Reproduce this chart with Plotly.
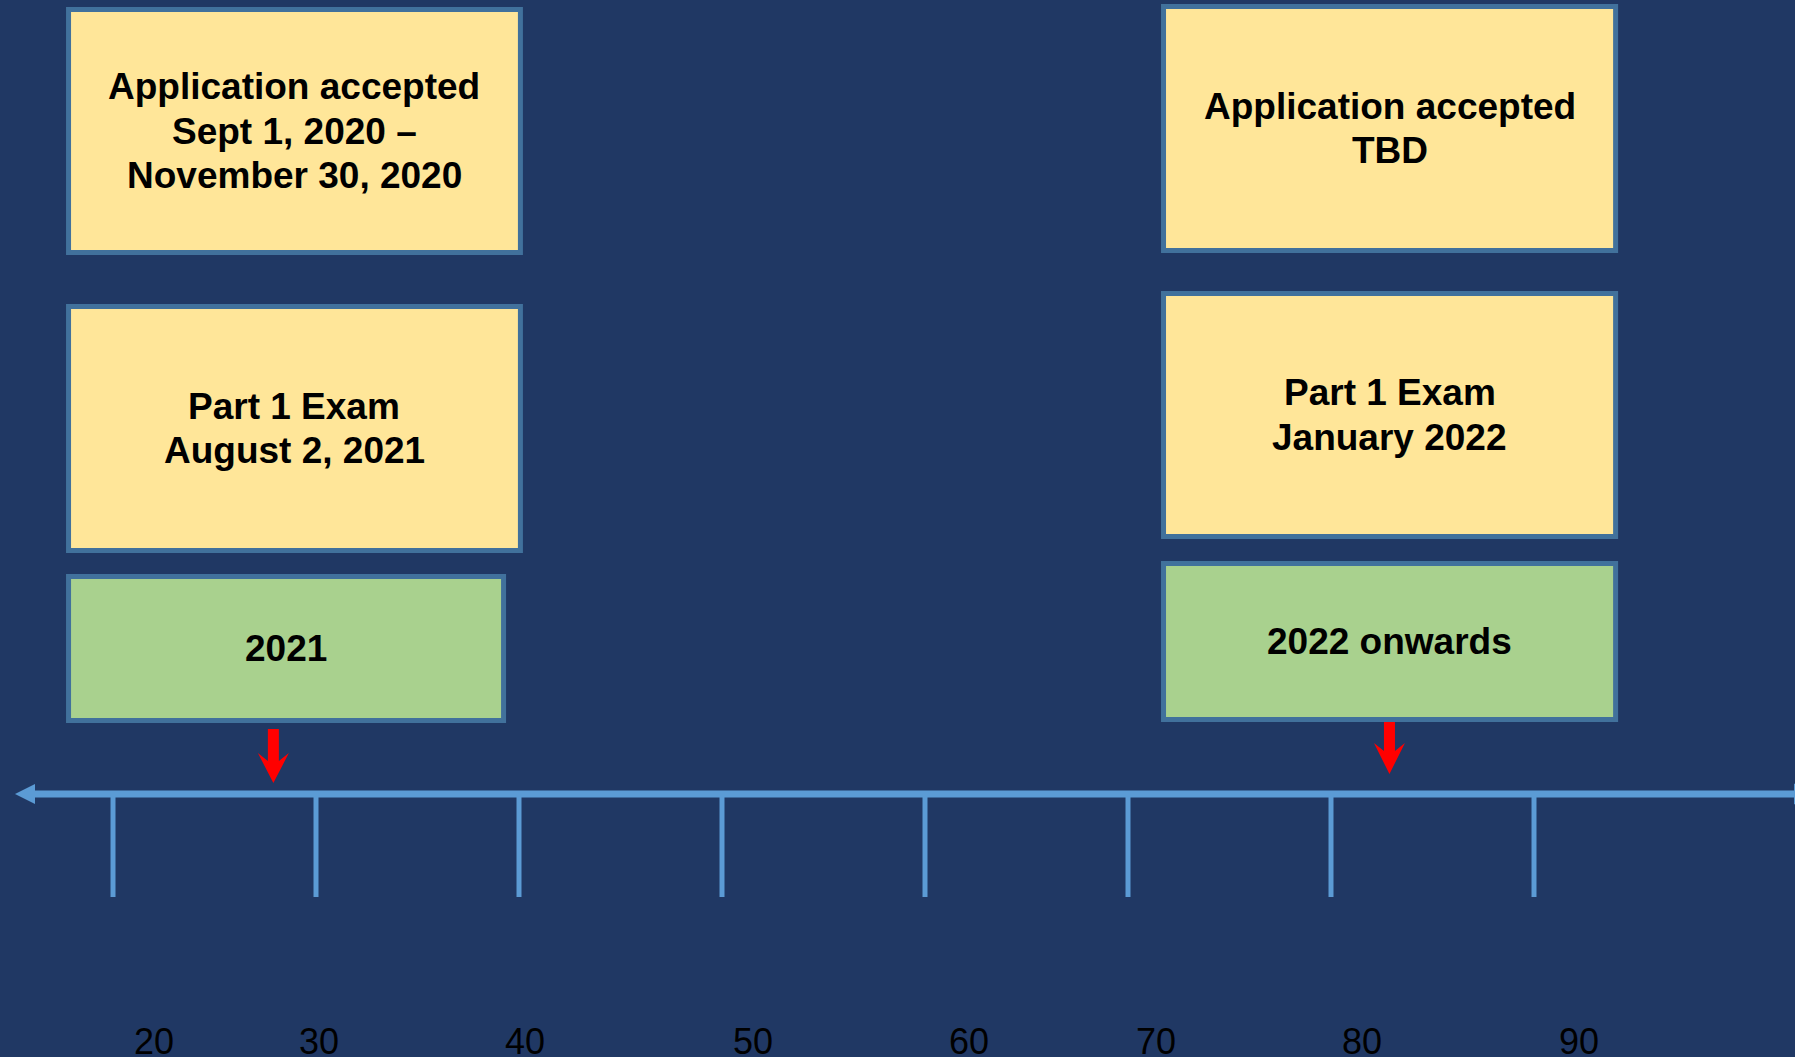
import plotly.graph_objects as go

# ---------------- data ----------------
tick_ages = [20, 30, 40, 50, 60, 70, 80, 90]
tick_labels = ["20", "30", "40", "50", "60", "70", "80", "90"]
# where each tick label sits along the age axis (labels are offset from ticks in the original)
label_ages = [22.0, 30.15, 40.3, 51.53, 62.17, 71.38, 81.53, 92.22]

left_texts = [
    ["Application accepted", "Sept 1, 2020 \u2013", "November 30, 2020"],
    ["Part 1 Exam", "August 2, 2021"],
    ["2021"],
]
right_texts = [
    ["Application accepted", "TBD"],
    ["Part 1 Exam", "January 2022"],
    ["2022 onwards"],
]
box_kinds = ["yellow", "yellow", "green"]

# marker arrows on the timeline (age units)
arrow_ages = [27.9, 82.88]

# ---------------- layout / geometry ----------------
W, H = 1795, 1057
PX0, PX_PER_YEAR = 113.0, 20.3          # age 20 sits at 113 px, 10 years = 203 px


def px2age(px):
    return 20 + (px - PX0) / PX_PER_YEAR


def dpx(px):
    return px / PX_PER_YEAR


x_range = [px2age(0), px2age(W)]

# box geometry: x spans in age units, y spans in rows (px from top)
left_x = [(17.81, 40.07), (17.81, 40.07), (17.81, 39.24)]
right_x = [(71.75, 94.02), (71.75, 94.02), (71.75, 94.02)]
left_y = [(9.5, 252.5), (306.5, 550.5), (576.5, 720.5)]
right_y = [(6.5, 250.5), (293.5, 536.5), (563.5, 719.5)]
arrow_rows = [(729, 753, 761, 783), (722, 743, 751, 774)]  # top, barb, junction, tip

AXIS_Y = 794
TICK_BOTTOM = 897
LABEL_Y = 1041

BG = "#203864"
AXIS_COLOR = "#5B9BD5"
BORDER = "#41719C"
FILLS = {"yellow": "#FFE699", "green": "#A9D18E"}
FONT = "Liberation Sans, Arial, sans-serif"
LINE_GAP = 44.5

fig = go.Figure()
fig.add_trace(go.Scatter(x=[x_range[0]], y=[0], mode="markers",
                         marker=dict(opacity=0), hoverinfo="skip", showlegend=False))

shapes = []
annotations = []

# timeline line
shapes.append(dict(type="line", xref="x", yref="y", x0=px2age(35), x1=x_range[1] + 1,
                   y0=AXIS_Y, y1=AXIS_Y, line=dict(color=AXIS_COLOR, width=7)))
# left arrowhead
lx_tip, lx_base = px2age(15), px2age(35)
shapes.append(dict(type="path", xref="x", yref="y",
                   path=f"M {lx_tip} {AXIS_Y} L {lx_base} {AXIS_Y-10} L {lx_base} {AXIS_Y+10} Z",
                   fillcolor=AXIS_COLOR, line=dict(width=0)))
# right arrowhead (cut at the edge)
rx_base, rx_tip = px2age(1794), px2age(1814)
shapes.append(dict(type="path", xref="x", yref="y",
                   path=f"M {rx_base} {AXIS_Y-10.5} L {rx_tip} {AXIS_Y} L {rx_base} {AXIS_Y+10.5} Z",
                   fillcolor=AXIS_COLOR, line=dict(width=0)))

# ticks
for a in tick_ages:
    shapes.append(dict(type="line", xref="x", yref="y", x0=a, x1=a,
                       y0=AXIS_Y, y1=TICK_BOTTOM, line=dict(color=AXIS_COLOR, width=5)))

# tick labels
for a, t in zip(label_ages, tick_labels):
    annotations.append(dict(x=a, y=LABEL_Y, xref="x", yref="y", text=t, showarrow=False,
                            xanchor="center", yanchor="middle",
                            font=dict(family=FONT, size=36, color="#000000")))


def add_box(xs, ys, kind, lines):
    shapes.append(dict(type="rect", xref="x", yref="y", x0=xs[0], x1=xs[1], y0=ys[0], y1=ys[1],
                       fillcolor=FILLS[kind], line=dict(color=BORDER, width=5), layer="above"))
    cx = (xs[0] + xs[1]) / 2
    cy = (ys[0] + ys[1]) / 2
    n = len(lines)
    for i, ln in enumerate(lines):
        annotations.append(dict(x=cx, y=cy + (i - (n - 1) / 2) * LINE_GAP, xref="x", yref="y",
                                text=ln, showarrow=False, xanchor="center", yanchor="middle",
                                font=dict(family=FONT, size=37, color="#000000", weight="bold")))


for xs, ys, kind, lines in zip(left_x, left_y, box_kinds, left_texts):
    add_box(xs, ys, kind, lines)
for xs, ys, kind, lines in zip(right_x, right_y, box_kinds, right_texts):
    add_box(xs, ys, kind, lines)

# red arrows
for a, (top, barb, junc, tip) in zip(arrow_ages, arrow_rows):
    s0, s1 = a - dpx(5.5), a + dpx(5.5)
    h0, h1 = a - dpx(15.5), a + dpx(15.5)
    path = (f"M {s0} {top} L {s1} {top} L {s1} {junc} L {h1} {barb} L {a} {tip} "
            f"L {h0} {barb} L {s0} {junc} Z")
    shapes.append(dict(type="path", xref="x", yref="y", path=path,
                       fillcolor="#FF0000", line=dict(width=0)))

fig.update_layout(
    width=W, height=H,
    margin=dict(l=0, r=0, t=0, b=0),
    paper_bgcolor=BG, plot_bgcolor=BG,
    xaxis=dict(range=x_range, visible=False, fixedrange=True),
    yaxis=dict(range=[H, 0], visible=False, fixedrange=True),
    shapes=shapes, annotations=annotations,
    showlegend=False,
)

fig.write_html("out.html", config={"displayModeBar": False},
               post_script="document.body.style.margin='0';document.body.style.overflow='hidden';")
